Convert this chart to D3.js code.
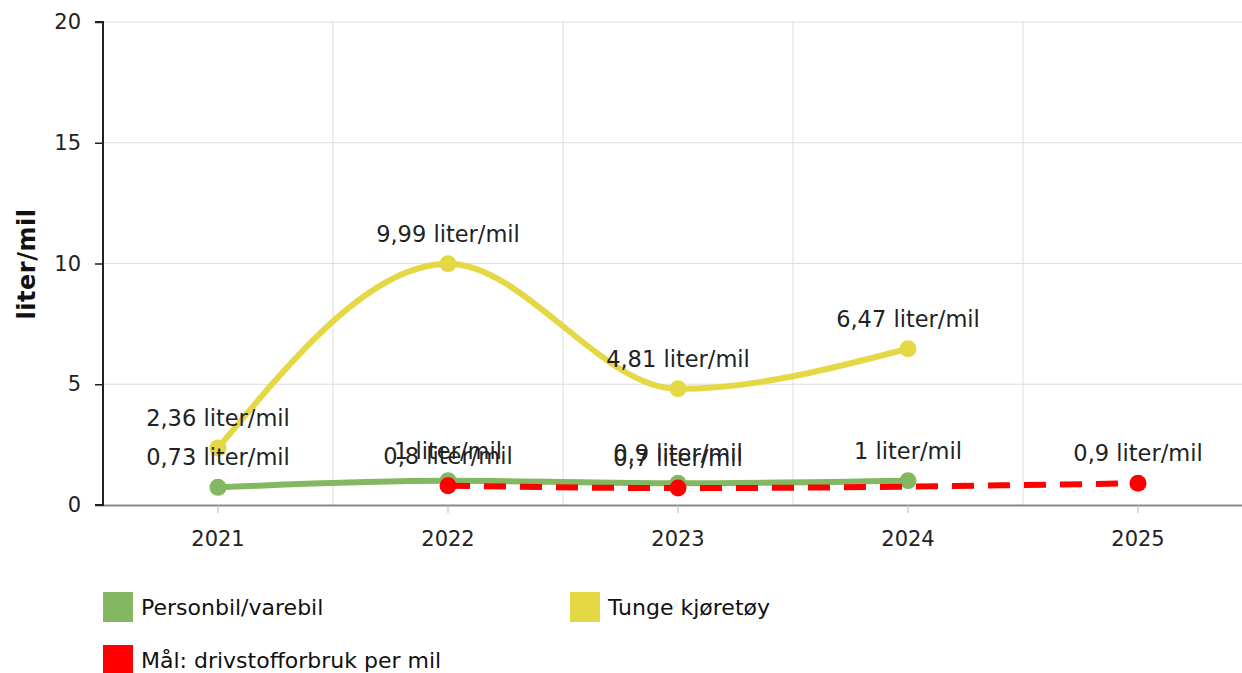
<!DOCTYPE html>
<html><head><meta charset="utf-8">
<script src="https://cdn.jsdelivr.net/npm/d3@7"></script>
<style>body{margin:0;background:#fff}svg{display:block;font-family:"DejaVu Sans",Verdana,sans-serif}</style>
</head><body><svg id="c" width="1242" height="673"></svg>
<script>
const years = ["2021","2022","2023","2024","2025"];
const personbil = [0.73, 1, 0.9, 1, null];
const tunge = [2.36, 9.99, 4.81, 6.47, null];
const maal = [null, 0.8, 0.7, null, 0.9];
const yTicks = [0,5,10,15,20];
const seriesNames = ["Personbil/varebil","Tunge kjøretøy","Mål: drivstofforbruk per mil"];
const colors = ["#84b761","#e5d845","#ff0000"];

const svg = d3.select("#c");
const pLeft = 103, pRight = 1253, pTop = 22, pBottom = 505;
const x = d3.scaleBand().domain(years).range([pLeft,pRight]).padding(0);
const y = d3.scaleLinear().domain([0,20]).range([pBottom,pTop]);
const cx = d => x(d) + x.bandwidth()/2;

// grid
const g = svg.append("g");
g.selectAll(".hg").data(yTicks.slice(1)).enter().append("line")
 .attr("x1",pLeft).attr("x2",1242).attr("y1",d=>y(d)).attr("y2",d=>y(d))
 .attr("stroke","#dddddd").attr("stroke-width",1);
g.selectAll(".vg").data(years.slice(1)).enter().append("line")
 .attr("x1",d=>x(d)).attr("x2",d=>x(d)).attr("y1",pTop).attr("y2",pBottom)
 .attr("stroke","#dddddd").attr("stroke-width",1);

// axes
const xa = svg.append("g").attr("transform",`translate(0,${pBottom})`)
 .call(d3.axisBottom(x).tickSize(8).tickPadding(18));
xa.select(".domain").attr("d",`M${pLeft},0.5H1242`).attr("stroke","#888").attr("stroke-width",2);
xa.selectAll(".tick line").attr("stroke","#bbb");
xa.selectAll("text").attr("font-size",21).attr("fill","#222").attr("font-family","DejaVu Sans");

const ya = svg.append("g").attr("transform",`translate(${pLeft},0)`)
 .call(d3.axisLeft(y).tickValues(yTicks).tickSize(8).tickPadding(14));
ya.select(".domain").attr("stroke","#222").attr("stroke-width",2).attr("d",`M-8,${pTop}H0V${pBottom}H-8`);
ya.selectAll(".tick line").attr("stroke","#222").attr("stroke-width",1.5);
ya.selectAll("text").attr("font-size",21).attr("fill","#222").attr("font-family","DejaVu Sans");

svg.append("text").attr("transform","translate(35,264) rotate(-90)")
 .attr("text-anchor","middle").attr("font-size",24).attr("font-weight","bold").attr("fill","#111")
 .attr("letter-spacing","0.5").text("liter/mil");

const fmt = v => String(v).replace(".",",") + " liter/mil";
const line = d3.line().x(d=>cx(d.k)).y(d=>y(d.v)).curve(d3.curveMonotoneX);

function drawSeries(vals, color, dashed){
  const pts = years.map((k,i)=>({k, v: vals[i]})).filter(d=>d.v!=null);
  svg.append("path").datum(pts).attr("d",line).attr("fill","none")
   .attr("stroke",color).attr("stroke-width",6).attr("stroke-linecap","butt")
   .attr("stroke-dasharray",dashed?"22,14":null);
  svg.selectAll(null).data(pts).enter().append("circle")
   .attr("cx",d=>cx(d.k)).attr("cy",d=>y(d.v)).attr("r",8.5).attr("fill",color);
  return pts;
}
const p1 = drawSeries(tunge, colors[1], false);
const p0 = drawSeries(personbil, colors[0], false);
const p2 = drawSeries(maal, colors[2], true);

[p1,p0,p2].forEach(pts=>{
  svg.selectAll(null).data(pts).enter().append("text")
   .attr("x",d=>cx(d.k)).attr("y",d=>y(d.v)-22).attr("text-anchor","middle")
   .attr("font-size",22.5).attr("fill","#222").text(d=>fmt(d.v));
});

// legend
const leg = [{i:0,x:103,y:592},{i:1,x:570,y:592},{i:2,x:103,y:645}];
leg.forEach(l=>{
  svg.append("rect").attr("x",l.x).attr("y",l.y).attr("width",30).attr("height",30).attr("fill",colors[l.i]);
  svg.append("text").attr("x",l.x+38).attr("y",l.y+23).attr("font-size",22).attr("fill","#111").text(seriesNames[l.i]);
});
</script></body></html>
